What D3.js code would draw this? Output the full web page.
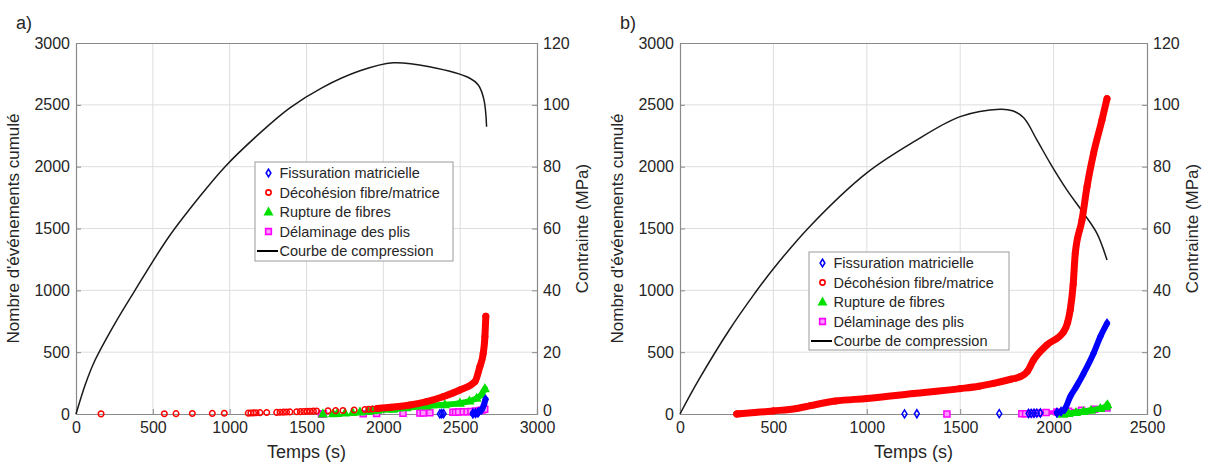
<!DOCTYPE html>
<html>
<head>
<meta charset="utf-8">
<script src="https://cdn.jsdelivr.net/npm/d3@7"></script>
<style>
  html, body { margin: 0; padding: 0; background: #fff; }
  svg { display: block; }
  text { font-family: "Liberation Sans", Arial, sans-serif; fill: #262626; }
</style>
</head>
<body>
<svg id="chart" width="1212" height="465"></svg>
<script>
// ---------------- DATA ----------------
const seriesNames = ["Fissuration matricielle", "Décohésion fibre/matrice", "Rupture de fibres", "Délaminage des plis", "Courbe de compression"];
const countTicks = [0, 500, 1000, 1500, 2000, 2500, 3000];
const stressTicks = [0, 20, 40, 60, 80, 100, 120];
const timeTicksA = [0, 500, 1000, 1500, 2000, 2500, 3000];
const timeTicksB = [0, 500, 1000, 1500, 2000, 2500];
const panelLabels = ["a)", "b)"];
const xTitle = "Temps (s)";
const yTitleLeft = "Nombre d'événements cumulé";
const yTitleRight = "Contrainte (MPa)";

// Panel a) — isolated events [time s, cumulative count]
const aFissurationPoints = [[2368, 1], [2380, 2], [2392, 3], [2583, 4], [2600, 6], [2615, 10]];
const aFissurationBand = [[2583, 4], [2600, 8], [2620, 15], [2640, 35], [2655, 75], [2665, 118]];
const aDecohesionPoints = [[163, 1], [575, 2], [651, 3], [757, 4], [887, 5], [965, 6],
  [1121, 7], [1138, 8], [1155, 9], [1172, 10], [1197, 11], [1241, 12],
  [1306, 13], [1328, 14], [1350, 15], [1370, 16], [1392, 17],
  [1436, 18], [1460, 19], [1482, 20], [1503, 21], [1524, 22], [1545, 23], [1566, 24],
  [1640, 26], [1690, 27], [1737, 28], [1810, 32], [1880, 36], [1905, 38], [1930, 40]];
const aDecohesionBand = [[1960, 45], [2050, 55], [2173, 73], [2282, 100], [2388, 140], [2498, 194],
  [2596, 261], [2628, 383], [2650, 490], [2661, 625], [2667, 790]];
const aRupturePoints = [[1607, 1], [1673, 3], [1700, 5], [1750, 8], [1800, 12], [1848, 17], [1900, 22]];
const aRuptureBand = [[1930, 26], [1960, 30], [2063, 38], [2150, 50], [2282, 65], [2400, 75], [2498, 88],
  [2560, 105], [2607, 127], [2640, 160], [2661, 205]];
const aDelaminagePoints = [[1598, 1], [1610, 2], [1869, 3], [1956, 4], [2128, 6], [2238, 8], [2260, 9], [2303, 10],
  [2453, 14], [2470, 15], [2490, 16], [2520, 18], [2545, 19], [2570, 21], [2600, 24], [2628, 28], [2645, 32], [2660, 38]];
const aCompression = [[0, 0], [60, 9.5], [120, 17], [250, 29], [384, 40], [600, 57], [800, 70], [970, 80], [1200, 91],
  [1392, 99], [1600, 105.5], [1848, 111], [2063, 113.6], [2300, 112.3], [2563, 108.6], [2618, 106.4],
  [2655, 101.6], [2672, 92.9]];

// Panel b)
const bFissurationPoints = [[1202, 1], [1268, 2], [1709, 3], [1866, 4], [1880, 5], [1895, 6], [1910, 7], [1929, 8], [2018, 10]];
const bFissurationBand = [[2018, 10], [2040, 20], [2060, 40], [2089, 140], [2125, 230], [2161, 329],
  [2214, 491], [2250, 625], [2286, 733]];
const bDecohesionPoints = [[304, 0], [320, 2]];
const bDecohesionBand = [[304, 0], [400, 12], [500, 25], [625, 45], [700, 68], [833, 105], [1000, 125], [1250, 165],
  [1500, 205], [1600, 225], [1679, 248], [1771, 281], [1821, 302], [1860, 345], [1893, 437], [1964, 558],
  [2054, 666], [2075, 740], [2089, 841], [2105, 1050], [2116, 1299], [2152, 1569], [2179, 1838],
  [2214, 2108], [2259, 2377], [2286, 2550]];
const bRupturePoints = [[2050, 1]];
const bRuptureBand = [[2050, 1], [2080, 5], [2120, 12], [2160, 20], [2200, 30], [2250, 45], [2280, 60], [2288, 75]];
const bDelaminagePoints = [[1429, 1], [1830, 2], [1850, 3], [1880, 5]];
const bDelaminageBand = [[1880, 5], [1920, 8], [1960, 12], [2018, 16], [2080, 22], [2150, 30], [2220, 38], [2286, 48]];
const bCompression = [[0, 0], [100, 11], [262, 27], [400, 39], [500, 47], [700, 61], [1000, 78], [1250, 88],
  [1500, 96.2], [1714, 98.6], [1780, 98.1], [1840, 95.8], [1911, 88.6], [1982, 81.1], [2071, 72.5], [2161, 64.9],
  [2232, 58.4], [2286, 49.8]];

// ---------------- RENDERING ----------------
const svg = d3.select("#chart");
const colors = { fiss: "#0000ff", deco: "#ff0000", rupt: "#00e000", dela: "#ff00ff" };

const panels = [
  { label: panelLabels[0], left: 76, right: 537, top: 43, bottom: 414, tmax: 3000, tticks: timeTicksA,
    fissP: aFissurationPoints, fissB: aFissurationBand, decoP: aDecohesionPoints, decoB: aDecohesionBand,
    ruptP: aRupturePoints, ruptB: aRuptureBand, delaP: aDelaminagePoints, delaB: null, comp: aCompression,
    legend: { x: 255, y: 162, w: 198, h: 99 } },
  { label: panelLabels[1], left: 680, right: 1147, top: 43, bottom: 414, tmax: 2500, tticks: timeTicksB,
    fissP: bFissurationPoints, fissB: bFissurationBand, decoP: bDecohesionPoints, decoB: bDecohesionBand,
    ruptP: bRupturePoints, ruptB: bRuptureBand, delaP: bDelaminagePoints, delaB: bDelaminageBand, comp: bCompression,
    legend: { x: 809, y: 252, w: 200, h: 98 } }
];

function markerPath(kind, size) {
  const s = size;
  if (kind === "diamond") return `M0,${-s}L${s * 0.62},0L0,${s}L${-s * 0.62},0Z`;
  if (kind === "triangle") return `M0,${-s}L${s * 0.95},${s * 0.7}L${-s * 0.95},${s * 0.7}Z`;
  if (kind === "square") return `M${-s * 0.75},${-s * 0.75}H${s * 0.75}V${s * 0.75}H${-s * 0.75}Z`;
  return d3.symbol(d3.symbolCircle, Math.PI * s * s * 0.6)();
}

panels.forEach(p => {
  const x = d3.scaleLinear().domain([0, p.tmax]).range([p.left, p.right]);
  const yL = d3.scaleLinear().domain([0, 3000]).range([p.bottom, p.top]);
  const yR = d3.scaleLinear().domain([0, 120]).range([p.bottom, p.top]);
  const g = svg.append("g");

  // grid
  g.append("g").selectAll("line").data(p.tticks.slice(1, -1)).join("line")
    .attr("x1", d => x(d)).attr("x2", d => x(d)).attr("y1", p.top).attr("y2", p.bottom)
    .attr("stroke", "#dedede").attr("stroke-width", 1);
  g.append("g").selectAll("line").data(countTicks.slice(1, -1)).join("line")
    .attr("x1", p.left).attr("x2", p.right).attr("y1", d => yL(d)).attr("y2", d => yL(d))
    .attr("stroke", "#dedede").attr("stroke-width", 1);

  // axes
  const axB = g.append("g").attr("transform", `translate(0,${p.bottom})`)
    .call(d3.axisBottom(x).tickValues(p.tticks).tickSize(-5).tickPadding(8).tickFormat(d3.format("d")));
  const axT = g.append("g").attr("transform", `translate(0,${p.top})`)
    .call(d3.axisTop(x).tickValues(p.tticks).tickSize(0).tickFormat(""));
  const axL = g.append("g").attr("transform", `translate(${p.left},0)`)
    .call(d3.axisLeft(yL).tickValues(countTicks).tickSize(-5).tickPadding(6).tickFormat(d3.format("d")));
  const axR = g.append("g").attr("transform", `translate(${p.right},0)`)
    .call(d3.axisRight(yR).tickValues(stressTicks).tickSize(-5).tickPadding(6).tickFormat(d3.format("d")));
  [axB, axT, axL, axR].forEach(a => {
    a.select(".domain").attr("stroke", "#8a8a8a").attr("stroke-width", 1.2);
    a.selectAll(".tick line").attr("stroke", "#8a8a8a");
    a.selectAll(".tick text").attr("font-size", 16).attr("fill", "#303030")
      .attr("font-family", '"Liberation Sans", Arial, sans-serif');
  });
  axR.selectAll(".tick text").filter(d => d === 0).attr("dy", "0.1em");

  // titles
  const cx = (p.left + p.right) / 2, cy = (p.top + p.bottom) / 2;
  g.append("text").attr("x", cx).attr("y", 458).attr("text-anchor", "middle").attr("font-size", 18).text(xTitle);
  g.append("text").attr("transform", `translate(${p.left - 57},${cy}) rotate(-90)`).attr("text-anchor", "middle")
    .attr("font-size", 17).text(yTitleLeft);
  g.append("text").attr("transform", `translate(${p.right + 51},${cy}) rotate(-90)`).attr("text-anchor", "middle")
    .attr("font-size", 17).text(yTitleRight);
  g.append("text").attr("x", p.left - 60).attr("y", 29).attr("font-size", 18).text(p.label);

  // compression curve
  const lineR = d3.line().x(d => x(d[0])).y(d => yR(d[1])).curve(d3.curveCatmullRom.alpha(0.5));
  g.append("path").datum(p.comp).attr("d", lineR).attr("fill", "none").attr("stroke", "#1a1a1a").attr("stroke-width", 1.5);

  // series
  const lineL = d3.line().x(d => x(d[0])).y(d => yL(d[1])).curve(d3.curveMonotoneX);
  const series = [
    { P: p.delaP, B: p.delaB, c: colors.dela, k: "square", fill: "#ff99ff", bw: 4 },
    { P: p.ruptP, B: p.ruptB, c: colors.rupt, k: "triangle", fill: colors.rupt, bw: 6 },
    { P: p.decoP, B: p.decoB, c: colors.deco, k: "circle", fill: "none", bw: 7 },
    { P: p.fissP, B: p.fissB, c: colors.fiss, k: "diamond", fill: "none", bw: 6 }
  ];
  series.forEach(s => {
    if (s.B) {
      g.append("path").datum(s.B).attr("d", lineL).attr("fill", "none").attr("stroke", s.c)
        .attr("stroke-width", s.bw).attr("stroke-linecap", "round").attr("stroke-linejoin", "round");
    }
    const pts = s.P.concat(s.B ? s.B : []);
    g.append("g").selectAll("path").data(pts).join("path")
      .attr("transform", d => `translate(${x(d[0])},${yL(d[1])})`)
      .attr("d", markerPath(s.k, s.k === "circle" ? 3.6 : 4))
      .attr("fill", s.fill).attr("stroke", s.c).attr("stroke-width", 1.5);
  });

  // legend
  const L = p.legend;
  const lg = g.append("g").attr("transform", `translate(${L.x},${L.y})`);
  lg.append("rect").attr("width", L.w).attr("height", L.h).attr("fill", "#fff").attr("stroke", "#9a9a9a").attr("stroke-width", 1);
  const kinds = [
    { k: "diamond", c: colors.fiss, fill: "none" },
    { k: "circle", c: colors.deco, fill: "none" },
    { k: "triangle", c: colors.rupt, fill: colors.rupt },
    { k: "square", c: colors.dela, fill: "#ff99ff" },
    { k: "line", c: "#000" }
  ];
  kinds.forEach((m, i) => {
    const ry = 11 + i * 19.5;
    if (m.k === "line") {
      lg.append("line").attr("x1", 2).attr("x2", 23).attr("y1", ry).attr("y2", ry).attr("stroke", "#000").attr("stroke-width", 2);
    } else {
      lg.append("path").attr("transform", `translate(13.5,${ry})`).attr("d", markerPath(m.k, m.k === "circle" ? 3.4 : 3.8))
        .attr("fill", m.fill).attr("stroke", m.c).attr("stroke-width", 1.6);
    }
    lg.append("text").attr("x", 24.5).attr("y", ry + 5).attr("font-size", 14.5).text(seriesNames[i]);
  });
});
</script>
</body>
</html>
